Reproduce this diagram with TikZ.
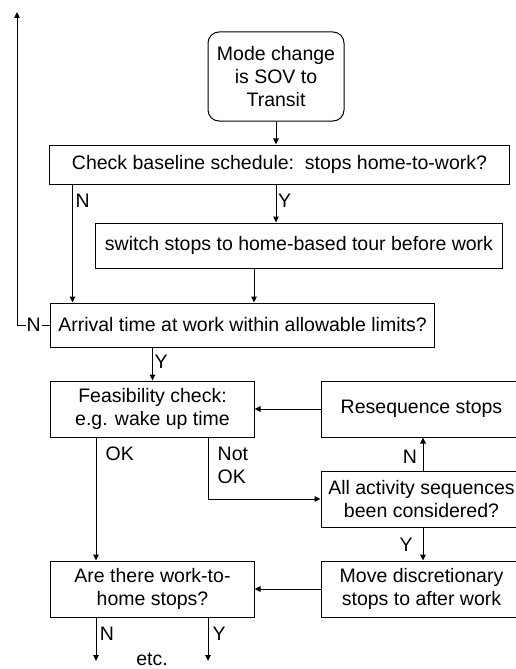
\documentclass[tikz,border=0pt]{standalone}
\usepackage{fontspec}
\setmainfont{Liberation Sans}
\usetikzlibrary{arrows.meta}

\begin{document}
\begin{tikzpicture}[x=1bp,y=-1bp,
  every node/.style={font=\fontsize{19.5bp}{23bp}\selectfont, inner sep=0pt},
  box/.style={draw, line width=1bp, align=center},
  startbox/.style={box, rounded corners=11bp},
  lbl/.style={inner sep=1bp},
  flow/.style={line width=1bp, -{Triangle[length=6bp,width=5.5bp]}}
]
\useasboundingbox (0,0) rectangle (516,669);
\clip (0,0) rectangle (516,669);

% decision and action boxes
\node[startbox, minimum width=136bp, minimum height=89bp] (mode) at (276,76.5)
  {Mode change\\is SOV to\\Transit};
\node[box, minimum width=459bp, minimum height=39bp] (check) at (279.5,164.5)
  {Check baseline schedule:\ \ stops home-to-work?};
\node[box, minimum width=406bp, minimum height=45bp] (sw) at (299,245.5)
  {switch stops to home-based tour before work};
\node[box, minimum width=383bp, minimum height=44bp] (arr) at (242.5,325)
  {Arrival time at work within allowable limits?};
\node[box, minimum width=203bp, minimum height=56bp] (feas) at (152.5,409)
  {Feasibility check:\\e.g. wake up time};
\node[box, minimum width=201bp, minimum height=56bp] (reseq) at (421.5,409)
  {Resequence stops};
\node[box, minimum width=201bp, minimum height=56bp] (all) at (421.5,499)
  {All activity sequences\\been considered?};
\node[box, minimum width=201bp, minimum height=56bp] (move) at (421.5,589)
  {Move discretionary\\stops to after work};
\node[box, minimum width=203bp, minimum height=56bp] (are) at (152.5,589)
  {Are there work-to-\\home stops?};

% free ends of the open connectors
\coordinate (loopend) at (17,12);
\coordinate (loopcorner) at (17,325);
\coordinate (outN) at (96,661);
\coordinate (outY) at (208,661);

% connectors (shifts are in page units: positive yshift moves up)
\draw[flow] (mode.south) -- (mode.south |- check.north);
\draw[flow] ([xshift=23bp]check.south west) -- ([xshift=23bp]check.south west |- arr.north);
\node[lbl, anchor=north west] at ([xshift=25bp,yshift=-8bp]check.south west) {N};
\draw[flow] (mode.south |- check.south) -- (mode.south |- sw.north);
\node[lbl, anchor=north west] at ([xshift=1bp,yshift=-8bp]mode.south |- check.south) {Y};
\draw[flow] ([xshift=-45bp]sw.south) -- ([xshift=-45bp]sw.south |- arr.north);
\draw[flow] (arr.west) -- node[lbl, fill=white] {N} (loopcorner) -- (loopend);
\draw[flow] (feas.north |- arr.south) -- (feas.north);
\node[lbl, anchor=west] at ([xshift=1bp,yshift=19bp]feas.north) {Y};
\draw[flow] (reseq.west) -- (reseq.west -| feas.east);
\draw[flow] ([xshift=-56.5bp]feas.south) -- ([xshift=-56.5bp]feas.south |- are.north);
\node[lbl, anchor=west] at ([xshift=-48bp,yshift=-16bp]feas.south) {OK};
\draw[flow] ([xshift=-46bp]feas.south east) |- (all.west);
\node[lbl, anchor=west, align=left] at ([xshift=-38bp,yshift=-28bp]feas.south east) {Not\\OK};
\draw[flow] ([xshift=1.5bp]all.north) -- ([xshift=1.5bp]all.north |- reseq.south);
\node[lbl] at ([xshift=-11.5bp,yshift=14bp]all.north) {N};
\draw[flow] ([xshift=1.5bp]all.south) -- ([xshift=1.5bp]all.south |- move.north);
\node[lbl] at ([xshift=-15.5bp,yshift=-17bp]all.south) {Y};
\draw[flow] (move.west) -- (move.west -| are.east);
\draw[flow] (are.south -| outN) -- (outN);
\draw[flow] (are.south -| outY) -- (outY);
\node[lbl] at ([xshift=11bp,yshift=-16bp]are.south -| outN) {N};
\node[lbl] at ([xshift=11bp,yshift=-16bp]are.south -| outY) {Y};
\node[lbl] at (152,659) {etc.};
\end{tikzpicture}
\end{document}
